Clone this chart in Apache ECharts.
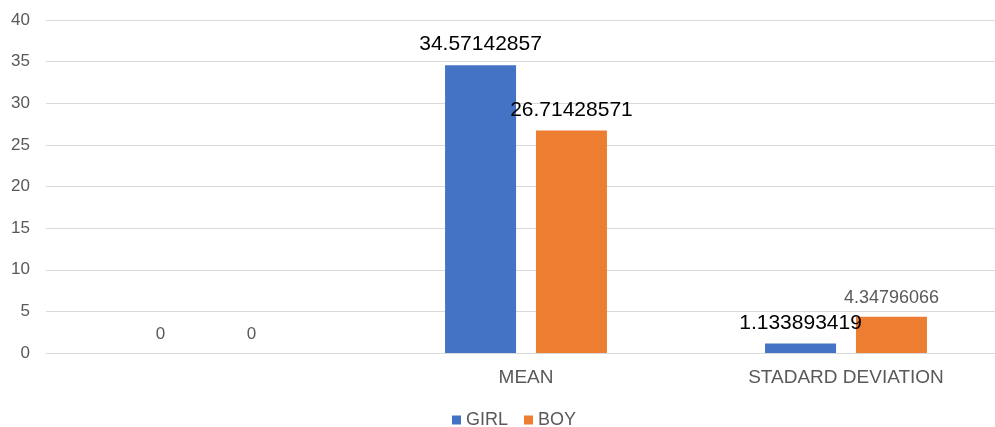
<!DOCTYPE html>
<html>
<head>
<meta charset="utf-8">
<script src="https://cdn.jsdelivr.net/npm/echarts@6/dist/echarts.min.js"></script>
<style>
html,body{margin:0;padding:0;background:#fff;}
#chart{width:995px;height:427px;}
</style>
</head>
<body>
<div id="chart"></div>
<script>
const categories = ['', 'MEAN', 'STADARD DEVIATION'];
const girlValues = [0, 34.57142857, 1.133893419];
const boyValues = [0, 26.71428571, 4.34796066];
const yTicks = { min: 0, max: 40, interval: 5 };

const FONT = '"Liberation Sans", Arial, sans-serif';
const grayLabel = { color: '#595959', fontSize: 17 };
const blackLabel = { color: '#000000', fontSize: 21 };
const graySmall = { color: '#595959', fontSize: 18 };

const girlLabelStyles = [grayLabel, blackLabel, blackLabel];
const boyLabelStyles = [grayLabel, blackLabel, graySmall];

function build(values, styles) {
  return values.map((v, i) => ({ value: v, label: styles[i] }));
}

const chart = echarts.init(document.getElementById('chart'), null, { renderer: 'canvas' });
chart.setOption({
  animation: false,
  textStyle: { fontFamily: FONT },
  grid: { left: 46, width: 960, top: 20, bottom: 74, containLabel: false, outerBoundsMode: 'none' },
  legend: {
    data: ['GIRL', 'BOY'],
    left: 447,
    top: 406,
    icon: 'rect',
    itemWidth: 9,
    itemHeight: 9,
    itemGap: 16,
    textStyle: { color: '#595959', fontSize: 18, fontFamily: FONT }
  },
  xAxis: {
    type: 'category',
    data: categories,
    axisLine: { show: false },
    axisTick: { show: false },
    axisLabel: { color: '#595959', fontSize: 19, margin: 15, fontFamily: FONT }
  },
  yAxis: {
    type: 'value',
    min: yTicks.min,
    max: yTicks.max,
    interval: yTicks.interval,
    axisLine: { show: false },
    axisTick: { show: false },
    axisLabel: { color: '#595959', fontSize: 17, margin: 16, fontFamily: FONT },
    splitLine: { lineStyle: { color: '#d9d9d9', width: 1 } }
  },
  series: [
    {
      name: 'GIRL',
      type: 'bar',
      barWidth: 71,
      barGap: '28%',
      itemStyle: { color: '#4472C4' },
      label: { show: true, position: 'top', distance: 10, fontFamily: FONT, formatter: '{c}' },
      data: build(girlValues, girlLabelStyles)
    },
    {
      name: 'BOY',
      type: 'bar',
      barWidth: 71,
      barGap: '28%',
      itemStyle: { color: '#ED7D31' },
      label: { show: true, position: 'top', distance: 10, fontFamily: FONT, formatter: '{c}' },
      data: build(boyValues, boyLabelStyles)
    }
  ]
});
</script>
</body>
</html>
